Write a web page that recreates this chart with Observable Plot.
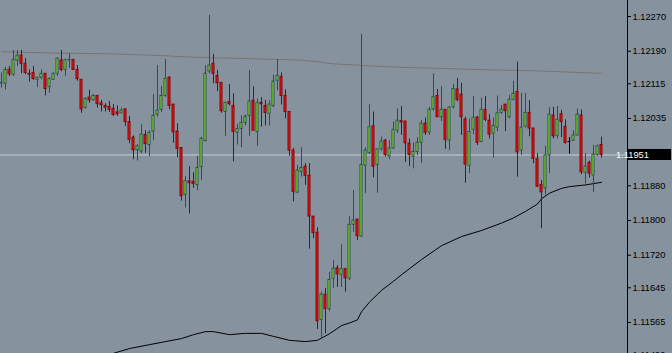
<!DOCTYPE html>
<html><head><meta charset="utf-8">
<script src="https://cdn.jsdelivr.net/npm/d3@7"></script>
<script src="https://cdn.jsdelivr.net/npm/@observablehq/plot@0.6"></script>
<style>
html,body{margin:0;padding:0;background:#87929f;overflow:hidden}
#chart svg{display:block}
</style></head><body><div id="chart"></div>
<script>
// OHLC per bar (EURUSD-like quotes), bar 0 = leftmost
const open = [1.12116,1.12115,1.12147,1.12136,1.12168,1.12180,1.12161,1.12138,1.12140,1.12124,
1.12129,1.12138,1.12107,1.12124,1.12138,1.12169,1.12147,1.12169,1.12170,1.12147,
1.12124,1.12059,1.12083,1.12077,1.12087,1.12070,1.12064,1.12062,1.12057,1.12049,
1.12047,1.12056,1.12027,1.11991,1.11962,1.11959,1.11997,1.11974,1.12005,1.12044,
1.12055,1.12087,1.12129,1.12067,1.12005,1.11967,1.11859,1.11890,1.11889,1.11882,
1.11923,1.11983,1.12143,1.12161,1.12133,1.12117,1.12050,1.12073,1.12064,1.12002,
1.12011,1.12025,1.12041,1.12076,1.12004,1.12071,1.12064,1.12046,1.12064,1.12122,
1.12131,1.12087,1.12050,1.11961,1.11864,1.11912,1.11924,1.11903,1.11809,1.11772,
1.11571,1.11629,1.11596,1.11666,1.11690,1.11675,1.11688,1.11666,1.11790,1.11802,
1.11763,1.11926,1.11955,1.12017,1.11928,1.11964,1.11984,1.11948,1.11966,1.12007,
1.12029,1.12028,1.11977,1.11947,1.11958,1.11979,1.12023,1.12003,1.12056,1.12087,
1.12038,1.12055,1.11984,1.12061,1.12102,1.12090,1.12033,1.11926,1.12009,1.12037,
1.11981,1.12055,1.12030,1.12000,1.12014,1.12048,1.12067,1.12038,1.12078,1.12096,
1.11961,1.12016,1.12048,1.12012,1.11941,1.11882,1.11874,1.11950,1.12042,1.11995,
1.12045,1.12016,1.11982,1.11984,1.11996,1.12042,1.11910,1.11933,1.11904,1.11951,
1.11974];
const high = [1.12140,1.12153,1.12155,1.12192,1.12192,1.12192,1.12173,1.12147,1.12155,1.12129,
1.12147,1.12138,1.12129,1.12140,1.12175,1.12192,1.12172,1.12184,1.12170,1.12157,
1.12124,1.12083,1.12100,1.12090,1.12087,1.12077,1.12069,1.12074,1.12067,1.12064,
1.12059,1.12057,1.12040,1.11995,1.11975,1.12021,1.12007,1.12007,1.12090,1.12157,
1.12109,1.12171,1.12132,1.12067,1.12023,1.11967,1.11901,1.11924,1.11910,1.11948,
1.11992,1.12157,1.12273,1.12183,1.12146,1.12117,1.12073,1.12113,1.12092,1.12022,
1.12041,1.12043,1.12146,1.12108,1.12080,1.12083,1.12077,1.12076,1.12135,1.12171,
1.12140,1.12101,1.12050,1.11966,1.11927,1.11968,1.11931,1.11931,1.11809,1.11783,
1.11635,1.11643,1.11681,1.11708,1.11696,1.11744,1.11688,1.11809,1.11869,1.11802,
1.12229,1.11967,1.12067,1.12050,1.11964,1.11992,1.11987,1.11984,1.12027,1.12057,
1.12063,1.12028,1.11988,1.11979,1.11991,1.12031,1.12036,1.12061,1.12138,1.12102,
1.12108,1.12055,1.12063,1.12114,1.12127,1.12116,1.12038,1.12034,1.12086,1.12040,
1.12082,1.12086,1.12044,1.12036,1.12087,1.12065,1.12067,1.12088,1.12121,1.12165,
1.12093,1.12093,1.12076,1.12012,1.11954,1.11892,1.11971,1.12060,1.12061,1.12063,
1.12054,1.12032,1.11991,1.12007,1.12057,1.12055,1.11954,1.11937,1.11973,1.11974,
1.11992];
const low = [1.12105,1.12101,1.12132,1.12132,1.12155,1.12138,1.12136,1.12119,1.12123,1.12106,
1.12124,1.12087,1.12093,1.12123,1.12132,1.12143,1.12132,1.12150,1.12146,1.12121,
1.12047,1.12057,1.12070,1.12075,1.12059,1.12050,1.12050,1.12049,1.12040,1.12040,
1.12047,1.12017,1.11977,1.11940,1.11937,1.11954,1.11955,1.11947,1.11984,1.12038,
1.12049,1.12084,1.12055,1.11978,1.11945,1.11845,1.11829,1.11815,1.11874,1.11869,
1.11892,1.11981,1.12138,1.12115,1.12097,1.12047,1.11994,1.12064,1.11935,1.11974,
1.11968,1.12018,1.11994,1.12007,1.11971,1.12015,1.12018,1.12018,1.12060,1.12099,
1.12066,1.12034,1.11948,1.11843,1.11862,1.11900,1.11881,1.11734,1.11758,1.11549,
1.11530,1.11539,1.11590,1.11644,1.11646,1.11646,1.11635,1.11662,1.11773,1.11754,
1.11762,1.11862,1.11952,1.11898,1.11863,1.11960,1.11946,1.11940,1.11964,1.12000,
1.11996,1.11934,1.11925,1.11919,1.11950,1.11932,1.11996,1.11996,1.12052,1.12037,
1.12028,1.11964,1.11961,1.12057,1.12073,1.11996,1.11886,1.11908,1.11998,1.11973,
1.11979,1.12028,1.11988,1.11944,1.12005,1.12044,1.12005,1.12034,1.12077,1.11900,
1.11950,1.12013,1.11993,1.11931,1.11877,1.11781,1.11859,1.11908,1.11988,1.11988,
1.11991,1.11976,1.11953,1.11982,1.11995,1.11906,1.11884,1.11898,1.11864,1.11948,
1.11944];
const close = [1.12117,1.12147,1.12137,1.12170,1.12180,1.12161,1.12140,1.12136,1.12126,1.12129,
1.12138,1.12103,1.12126,1.12138,1.12173,1.12147,1.12169,1.12170,1.12147,1.12126,
1.12056,1.12080,1.12077,1.12087,1.12068,1.12066,1.12060,1.12055,1.12043,1.12045,
1.12053,1.12027,1.11986,1.11962,1.11971,1.11998,1.11976,1.12002,1.12041,1.12053,
1.12087,1.12126,1.12064,1.12003,1.11965,1.11856,1.11891,1.11886,1.11884,1.11921,
1.11988,1.12138,1.12157,1.12138,1.12116,1.12052,1.12071,1.12068,1.12004,1.12011,
1.12025,1.12039,1.12074,1.12007,1.12071,1.12068,1.12048,1.12067,1.12120,1.12133,
1.12087,1.12050,1.11961,1.11866,1.11915,1.11921,1.11903,1.11809,1.11771,1.11568,
1.11629,1.11596,1.11663,1.11689,1.11676,1.11688,1.11667,1.11790,1.11800,1.11764,
1.11928,1.11961,1.12015,1.11924,1.11964,1.11982,1.11951,1.11966,1.12009,1.12030,
1.12026,1.11978,1.11951,1.11958,1.11979,1.12023,1.12002,1.12055,1.12084,1.12038,
1.12055,1.11986,1.12060,1.12103,1.12078,1.12038,1.11929,1.12004,1.12037,1.11979,
1.12055,1.12032,1.11998,1.12018,1.12047,1.12055,1.12052,1.12078,1.12092,1.11957,
1.12014,1.12048,1.12012,1.11942,1.11878,1.11865,1.11950,1.12044,1.11994,1.12032,
1.12027,1.11979,1.11982,1.11996,1.12044,1.11911,1.11924,1.11908,1.11952,1.11971,
1.11951];

// slow moving average (grey-brown), read at selected bars
const slowMaBar = [0,12,27,34,40,46,52,62,73,77,79,81,83,89,95,103,112,122,133,139,147,150];
const slowMaVal = [1.12189,1.12186,1.12184,1.12182,1.12180,1.12177,1.12175,1.12173,1.12170,1.12168,1.12166,1.12163,1.12161,1.12158,1.12155,1.12152,1.12150,1.12147,1.12145,1.12143,1.12140,1.12139];

// fast moving average (black), read at selected bars
const fastMaBar = [28,32,37,41,45,48,51,53,57,61,65,68,72,76,79,82,85,87,89,90,92,95,98,100,105,110,115,120,125,128,131,134,135,137,140,142,145,146,150];
const fastMaVal = [1.11494,1.11505,1.11514,1.11521,1.11528,1.11537,1.11544,1.11544,1.11537,1.11540,1.11540,1.11533,1.11524,1.11521,1.11524,1.11539,1.11558,1.11564,1.11571,1.11590,1.11612,1.11639,1.11660,1.11675,1.11710,1.11742,1.11763,1.11777,1.11794,1.11806,1.11821,1.11838,1.11850,1.11863,1.11874,1.11878,1.11881,1.11882,1.11888];

// price axis labels
const yTicks = [1.12270,1.12190,1.12115,1.12035,1.11880,1.11800,1.11720,1.11645,1.11565,1.11490];
const lastPrice = 1.11951;

const BG = "#87929f";
const bars = open.map((o, i) => ({i, open: o, high: high[i], low: low[i], close: close[i]}));
const up = bars.filter(d => d.close > d.open);
const down = bars.filter(d => d.close < d.open);
const doji = bars.filter(d => d.close === d.open);
const slowMa = slowMaBar.map((b, k) => ({b, v: slowMaVal[k]}));
const fastMa = fastMaBar.map((b, k) => ({b, v: fastMaVal[k]}));

const chart = Plot.plot({
  width: 672, height: 353,
  marginLeft: 0, marginRight: 45, marginTop: 0, marginBottom: 0,
  style: {background: BG, fontFamily: "'Liberation Sans', Arial, sans-serif", fontSize: "9.3px", color: "#000"},
  x: {domain: [0, 150], range: [1, 601], axis: null},
  y: {domain: [1.114936, 1.123069], range: [353, 0], axis: "right", ticks: yTicks, tickSize: 3, tickPadding: 2, tickFormat: d3.format(".5f"), label: null},
  marks: [
    Plot.ruleY([lastPrice], {stroke: "#c9ccd0", strokeWidth: 1}),
    Plot.line(slowMa, {x: "b", y: "v", stroke: "#7b746d", strokeWidth: 1}),
    Plot.line(fastMa, {x: "b", y: "v", stroke: "#000", strokeWidth: 1}),
    Plot.ruleX(up, {x: "i", y1: "low", y2: "high", stroke: "#2f4f4f"}),
    Plot.ruleX(down, {x: "i", y1: "low", y2: "high", stroke: "#8b0000"}),
    Plot.ruleX(doji, {x: "i", y1: "low", y2: "high", stroke: "#000"}),
    Plot.rect(up, {x1: d => d.i - 0.25, x2: d => d.i + 0.25, y1: "open", y2: "close", fill: "#7fff00", stroke: "#2f4f4f", strokeWidth: 1}),
    Plot.rect(down, {x1: d => d.i - 0.25, x2: d => d.i + 0.25, y1: "open", y2: "close", fill: "#f01818", stroke: "#8b0000", strokeWidth: 1}),
    Plot.ruleY(doji, {y: "open", x1: d => d.i - 0.375, x2: d => d.i + 0.375, stroke: "#000"}),
    Plot.frame({anchor: "right", stroke: "#000"})
  ]
});
document.getElementById("chart").appendChild(chart);

// current price tag on the price axis
const yScale = chart.scale("y");
const py = yScale.apply(lastPrice);
const tag = d3.select(chart).append("g").attr("transform", `translate(0.5,0.5)`);
tag.append("rect").attr("x", 627.5).attr("y", py - 6).attr("width", 43).attr("height", 11).attr("fill", "#000");
tag.append("text").attr("x", 632).attr("y", py).attr("dy", "0.32em").attr("fill", "#fff")
  .attr("font-family", "'Liberation Sans', Arial, sans-serif").attr("font-size", "9.3px").text(d3.format(".5f")(lastPrice));
</script>
</body></html>
